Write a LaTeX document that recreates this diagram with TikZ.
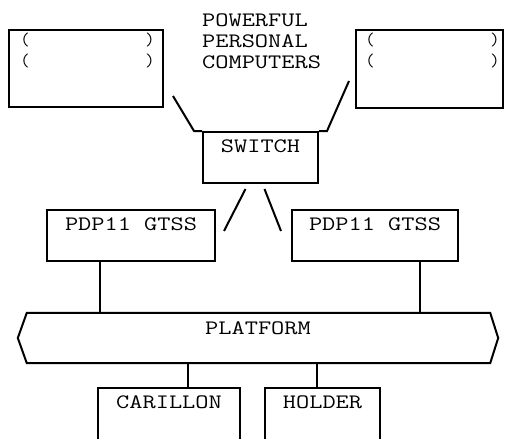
\documentclass[tikz,border=0pt]{standalone}
\usepackage{fontspec}
\newfontfamily\typer[FakeStretch=1.25]{Latin Modern Mono}
\usepackage{tikz}
\usetikzlibrary{positioning,calc}
\tikzset{
  unit/.style={draw,line width=2pt,inner sep=0pt},
  tw/.style={font=\fontsize{20.5}{21}\selectfont\typer,inner sep=0pt,text height=13pt,text depth=0pt},
  paren/.style={font=\fontsize{18}{18}\selectfont\ttfamily,inner sep=0pt},
  link/.style={line width=2pt}
}

\begin{document}
\begin{tikzpicture}[x=1pt,y=-1pt]
  \useasboundingbox (0,0) rectangle (509,439);
  \clip (0,0) rectangle (509,439);
  % personal computers
  \foreach \nm/\py/\txt in {a/19.5/POWERFUL,b/40.5/PERSONAL,c/61.5/COMPUTERS}
    \node[tw,anchor=west] (pwr\nm) at (202,\py) {\txt};
  \node[unit,minimum width=154pt,minimum height=77pt] (lpc) at (86,68.5) {};
  \node[unit,minimum width=147pt,minimum height=78pt] (rpc) at (429.5,69) {};
  \foreach \nm/\px/\py/\ch in {la/25/40/{(},lb/25/61/{(},lc/150/40/{)},ld/150/61/{)},
                               ra/370/40/{(},rb/370/61/{(},rc/495/40/{)},rd/495/61/{)}}
    \node[paren] (p\nm) at (\px,\py) {\ch};
  % switch
  \node[unit,minimum width=115pt,minimum height=51pt] (sw) at (260.5,157.5) {};
  \node[tw] (swt) at ([yshift=-15pt]sw.north) {SWITCH};
  \draw[link] ([shift={(9pt,12pt)}]lpc.south east) -- ([xshift=-8pt]sw.north west) -- (sw.north west);
  \draw[link] ([shift={(-6pt,28pt)}]rpc.south west) -- ([xshift=8pt]sw.north east) -- (sw.north east);
  % GTSS machines
  \node[unit,minimum width=168pt,minimum height=51pt] (lg) at (131,235.5) {};
  \node[tw] (lgt) at ([yshift=-15pt]lg.north) {PDP11 GTSS};
  \node[unit,minimum width=166pt,minimum height=51pt] (rg) at (375,235.5) {};
  \node[tw] (rgt) at ([yshift=-15pt]rg.north) {PDP11 GTSS};
  \draw[link] ([shift={(-15pt,-5pt)}]sw.south) -- ([shift={(8pt,-22pt)}]lg.north east);
  \draw[link] ([shift={(4pt,-5pt)}]sw.south) -- ([shift={(-10pt,-22pt)}]rg.north west);
  % platform
  \node[minimum width=480pt,minimum height=50pt,inner sep=0pt] (pf) at (258,338) {};
  \draw[link] ([xshift=9pt]pf.north west) -- ([xshift=-8pt]pf.north east) -- (pf.east)
    -- ([xshift=-8pt]pf.south east) -- ([xshift=9pt]pf.south west) -- (pf.west) -- cycle;
  \node[tw] (pft) at ([yshift=-15.5pt]pf.north) {PLATFORM};
  \draw[link] ($(lg.south)+(-31pt,0)$) -- ($(lg.south |- pf.north)+(-31pt,0)$);
  \draw[link] ($(rg.south)+(45pt,0)$) -- ($(rg.south |- pf.north)+(45pt,0)$);
  % bells
  \node[unit,minimum width=142pt,minimum height=80pt] (car) at (169,428) {};
  \node[tw] (cart) at ([yshift=-15pt]car.north) {CARILLON};
  \node[unit,minimum width=115pt,minimum height=80pt] (hld) at (322.5,428) {};
  \node[tw] (hldt) at ([yshift=-15pt]hld.north) {HOLDER};
  \draw[link] ($(car.north)+(19pt,0)$) -- ($(car.north |- pf.south)+(19pt,0)$);
  \draw[link] ($(hld.north)+(-5.5pt,0)$) -- ($(hld.north |- pf.south)+(-5.5pt,0)$);
\end{tikzpicture}
\end{document}
